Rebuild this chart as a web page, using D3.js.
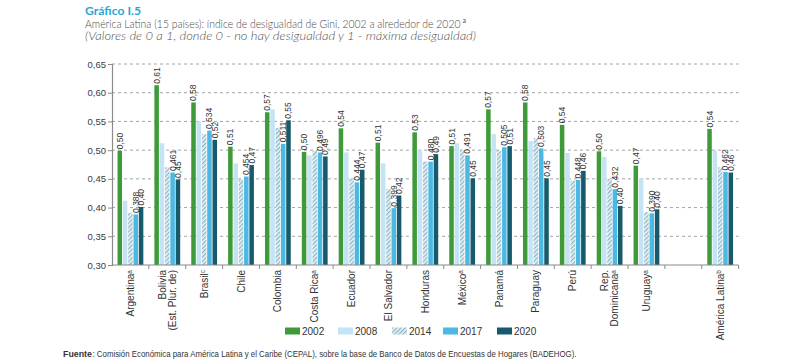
<!DOCTYPE html>
<html><head><meta charset="utf-8">
<script src="https://cdn.jsdelivr.net/npm/d3@7"></script>
<style>
html,body{margin:0;padding:0;background:#fff;}
svg{display:block;font-family:"Liberation Sans",Arial,sans-serif;}
</style></head>
<body>
<svg id="chart" width="800" height="364"></svg>
<script>
// ---- data ----
const years = ["2002", "2008", "2014", "2017", "2020"];
const categoryLines = [
  ["Argentina"], ["Bolivia", "(Est. Plur. de)"], ["Brasil"], ["Chile"], ["Colombia"],
  ["Costa Rica"], ["Ecuador"], ["El Salvador"], ["Honduras"], ["México"], ["Panamá"],
  ["Paraguay"], ["Perú"], ["Rep.", "Dominicana"], ["Uruguay"], ["América Latina"]
];
const categoryNotes = ["a", "", "c", "", "", "a", "", "", "", "a", "", "", "", "a", "a", "b"];
const v2002 = [0.499, 0.613, 0.583, 0.506, 0.566, 0.497, 0.538, 0.513, 0.531, 0.507, 0.571, 0.583, 0.544, 0.498, 0.473, 0.537];
const v2008 = [0.412, 0.512, 0.550, 0.477, 0.571, 0.491, 0.496, 0.477, 0.500, 0.512, 0.528, 0.516, 0.495, 0.488, 0.451, 0.499];
const v2014 = [0.391, 0.470, 0.528, 0.449, 0.539, 0.499, 0.451, 0.432, 0.480, 0.500, 0.499, 0.521, 0.447, 0.450, 0.392, 0.470];
const v2017 = [0.388, 0.461, 0.534, 0.454, 0.511, 0.496, 0.444, 0.399, 0.480, 0.491, 0.505, 0.503, 0.448, 0.432, 0.390, 0.462];
const v2020 = [0.401, 0.449, 0.518, 0.474, 0.552, 0.489, 0.466, 0.421, 0.493, 0.451, 0.507, 0.451, 0.464, 0.403, 0.397, 0.461];
const yTicks = [0.30, 0.35, 0.40, 0.45, 0.50, 0.55, 0.60, 0.65];
const labelDecimals = {"2002": 2, "2017": 3, "2020": 2};

const series = [v2002, v2008, v2014, v2017, v2020];
const colors = {"2002": "#3f9b3a", "2008": "#c4e3f4", "2014": "url(#hatch)", "2017": "#4cb8e4", "2020": "#175a6b"};

const svg = d3.select("#chart");
const defs = svg.append("defs");
const pat = defs.append("pattern").attr("id", "hatch").attr("patternUnits", "userSpaceOnUse")
  .attr("width", 3).attr("height", 3).attr("patternTransform", "rotate(45)");
pat.append("rect").attr("width", 3).attr("height", 3).attr("fill", "#e9f4f8");
pat.append("line").attr("x1", 0.7).attr("y1", 0).attr("x2", 0.7).attr("y2", 3)
  .attr("stroke", "#7eaab9").attr("stroke-width", 1.1);

// ---- scales ----
const mLeft = 112, mRight = 738.6, mTop = 64, mBottom = 265;
const slots = categoryLines.map((d, i) => "c" + i);
slots.splice(slots.length - 1, 0, "gap");
const catSlots = slots.filter(s => s !== "gap");
const x0 = d3.scaleBand().domain(slots).range([mLeft, mRight]).paddingInner(0.3).paddingOuter(0.15);
const x1 = d3.scaleBand().domain(years).range([0, x0.bandwidth()]).paddingInner(0.15);
const y = d3.scaleLinear().domain([0.30, 0.65]).range([mBottom, mTop]);
const fmt = (v, n) => v.toFixed(n).replace(".", ",");

// ---- grid ----
svg.append("g").selectAll("line").data(yTicks.slice(1)).join("line")
  .attr("x1", mLeft).attr("x2", mRight).attr("y1", d => y(d)).attr("y2", d => y(d))
  .attr("stroke", "#9a9a9a").attr("stroke-width", 0.9).attr("stroke-dasharray", "3,3");

// ---- y axis ----
const yAxis = svg.append("g").attr("transform", `translate(${mLeft},0)`)
  .call(d3.axisLeft(y).tickValues(yTicks).tickFormat(d => fmt(d, 2)).tickSize(4).tickPadding(2));
yAxis.select(".domain").attr("stroke", "#8a8a8a").attr("stroke-width", 1.2);
yAxis.selectAll(".tick line").attr("stroke", "#8a8a8a");
yAxis.selectAll("text").attr("font-size", 9.5).attr("fill", "#3a3a3a").attr("font-family", "'Liberation Sans', Arial, sans-serif");

// ---- bars ----
const groups = svg.append("g").selectAll("g").data(categoryLines.map((d, i) => i)).join("g")
  .attr("transform", i => `translate(${x0(catSlots[i])},0)`);
groups.selectAll("rect").data(i => years.map((yr, k) => ({yr, v: series[k][i]}))).join("rect")
  .attr("x", d => x1(d.yr)).attr("width", x1.bandwidth())
  .attr("y", d => y(d.v)).attr("height", d => mBottom - y(d.v))
  .attr("fill", d => colors[d.yr]);
groups.selectAll("text").data(i => years.filter(yr => labelDecimals[yr] !== undefined)
    .map(yr => ({yr, v: series[years.indexOf(yr)][i]}))).join("text")
  .attr("transform", d => `translate(${x1(d.yr) + x1.bandwidth() / 2},${y(d.v) - 1.5}) rotate(-90)`)
  .attr("dy", "0.35em").attr("font-size", 8.5).attr("fill", "#333")
  .text(d => fmt(d.v, labelDecimals[d.yr]));

// ---- x axis ----
svg.append("line").attr("x1", mLeft).attr("x2", mRight).attr("y1", mBottom).attr("y2", mBottom)
  .attr("stroke", "#8a8a8a").attr("stroke-width", 1.2);
svg.append("g").selectAll("line").data(slots).join("line")
  .attr("x1", d => x0(d) + x0.bandwidth() + x0.step() * x0.paddingInner() / 2)
  .attr("x2", d => x0(d) + x0.bandwidth() + x0.step() * x0.paddingInner() / 2)
  .attr("y1", mBottom).attr("y2", mBottom + 4).attr("stroke", "#8a8a8a");

const catG = svg.append("g").selectAll("text").data(categoryLines.map((d, i) => i)).join("text")
  .attr("transform", i => `translate(${x0(catSlots[i]) + x0.bandwidth() / 2},${mBottom + 5}) rotate(-90)`)
  .attr("text-anchor", "end").attr("font-size", 10).attr("fill", "#333");
catG.each(function(i) {
  const t = d3.select(this);
  const lines = categoryLines[i];
  const n = lines.length;
  lines.forEach((ln, j) => {
    const off = (j - (n - 1) / 2) * 10.5;
    if (j === n - 1 && categoryNotes[i]) {
      const ts = t.append("tspan").attr("x", 0).attr("y", off).attr("dy", "0.35em");
      ts.append("tspan").text(ln);
      ts.append("tspan").attr("dy", "-0.35em").attr("font-size", 6.5).text(categoryNotes[i]);
    } else {
      t.append("tspan").attr("x", 0).attr("y", off).attr("dy", "0.35em").text(ln);
    }
  });
});

// ---- legend ----
const legX = [285, 338, 392, 443, 497];
const leg = svg.append("g").selectAll("g").data(years).join("g")
  .attr("transform", (d, i) => `translate(${legX[i]},327.5)`);
leg.append("rect").attr("width", 15).attr("height", 7).attr("fill", d => colors[d]);
leg.append("text").attr("x", 17).attr("y", 7).attr("font-size", 10).attr("fill", "#333").text(d => d);

// ---- titles ----
svg.append("text").attr("x", 85).attr("y", 15).attr("font-family", "Lato, 'Open Sans', sans-serif")
  .attr("font-weight", "bold").attr("font-size", 11.5).attr("fill", "#2aa6d4")
  .attr("textLength", 56).attr("lengthAdjust", "spacingAndGlyphs").text("Gráfico I.5");
const title = svg.append("text").attr("font-family", "Lato, 'Open Sans', sans-serif")
  .attr("font-size", 11.5).attr("font-weight", 300).attr("fill", "#4a4a4a")
  .text("América Latina (15 países): índice de desigualdad de Gini, 2002 a alrededor de 2020");
const titleW = 376;
const natW = title.node().getComputedTextLength();
title.attr("transform", `translate(85,28) scale(${titleW / natW},1)`);
svg.append("text").attr("x", 85 + titleW + 1.5).attr("y", 23).attr("font-family", "Lato, 'Open Sans', sans-serif")
  .attr("font-size", 7).attr("fill", "#4a4a4a").text("a");
svg.append("text").attr("x", 85).attr("y", 40).attr("font-family", "Lato, 'Open Sans', sans-serif")
  .attr("font-style", "italic").attr("font-weight", 300).attr("font-size", 11.5).attr("fill", "#555")
  .attr("textLength", 391).attr("lengthAdjust", "spacingAndGlyphs")
  .text("(Valores de 0 a 1, donde 0 - no hay desigualdad y 1 - máxima desigualdad)");

// ---- source ----
svg.append("text").attr("x", 63).attr("y", 357).attr("font-size", 9).attr("fill", "#333")
  .attr("font-weight", "bold").attr("textLength", 29).attr("lengthAdjust", "spacingAndGlyphs")
  .text("Fuente");
svg.append("text").attr("x", 92.5).attr("y", 357).attr("font-size", 9).attr("fill", "#333")
  .attr("textLength", 484).attr("lengthAdjust", "spacingAndGlyphs")
  .text(": Comisión Económica para América Latina y el Caribe (CEPAL), sobre la base de Banco de Datos de Encuestas de Hogares (BADEHOG).");
</script>
</body></html>
